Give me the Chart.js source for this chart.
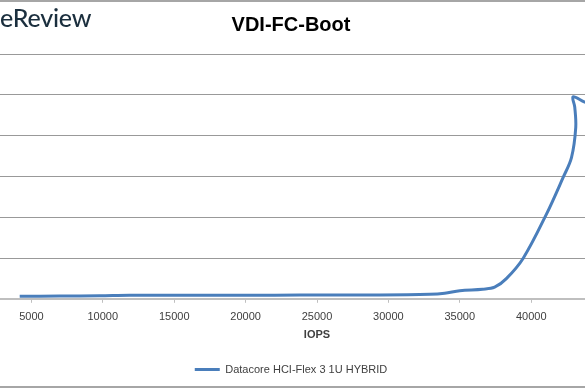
<!DOCTYPE html>
<html>
<head>
<meta charset="utf-8">
<script src="https://cdn.jsdelivr.net/npm/chart.js@4/dist/chart.umd.min.js"></script>
<style>
  html, body { margin: 0; padding: 0; background: #fff; }
  body { width: 585px; height: 390px; overflow: hidden; position: relative; }
  #wrap { position: absolute; left: -92px; top: 0; width: 766px; height: 385px; }
  .rule { position: absolute; left: 0; width: 585px; height: 2px; background: #a6a6a6; }
  #logo { position: absolute; left: 0; top: 2px; font-family: Lato, sans-serif; font-size: 25px;
          color: #1b2f3e; font-weight: 500; letter-spacing: -0.2px; }
</style>
</head>
<body>
<div id="wrap"><canvas id="grafico"></canvas></div>
<div class="rule" style="top:0"></div>
<div class="rule" style="top:386px"></div>
<div id="logo">eReview</div>
<script>
// valores (IOPS x latencia)
var iops = [4180, 6980, 9780, 11870, 16790, 20290, 23800, 29390, 32890, 33940, 35000, 36600, 37440,
            38260, 39430, 41060, 42230, 42820, 43120, 43050, 42930, 43750, 44500];
var latencia = [0.62, 0.67, 0.74, 0.86, 0.84, 0.86, 0.91, 0.94, 1.11, 1.36, 1.98, 2.35, 2.84,
                4.94, 9.88, 20.7, 29.7, 34.6, 42.0, 47.0, 49.5, 48.2, 47.5];
var xTicks = [0, 5000, 10000, 15000, 20000, 25000, 30000, 35000, 40000, 45000];
var yTicks = [0, 10, 20, 30, 40, 50, 60];
var serie = 'Datacore HCI-Flex 3 1U HYBRID';
var azul = '#4a7ebb';

var pontos = iops.map(function (x, i) { return { x: x, y: latencia[i] }; });

var ctx1 = document.getElementById('grafico').getContext('2d');
var meuGrafico = new Chart(ctx1, {
    type: 'scatter',
    data: {
        datasets: [{
            label: serie,
            data: pontos,
            showLine: true,
            borderColor: azul,
            backgroundColor: azul,
            borderWidth: 3,
            pointRadius: 0,
            tension: 0.35
        }]
    },
    options: {
        responsive: true,
        maintainAspectRatio: false,
        animation: false,
        layout: { padding: 0 },
        plugins: {
            title: {
                display: true,
                text: 'VDI-FC-Boot',
                color: '#000',
                font: { family: 'Liberation Sans', size: 20, weight: 'bold' },
                padding: { top: 13, bottom: 17 }
            },
            legend: {
                position: 'bottom',
                labels: {
                    usePointStyle: true,
                    pointStyle: 'line',
                    pointStyleWidth: 25,
                    color: '#404040',
                    font: { family: 'Liberation Sans', size: 11 },
                    padding: 10
                }
            },
            tooltip: { enabled: false }
        },
        scales: {
            x: {
                type: 'linear',
                min: 0,
                max: 50000,
                afterBuildTicks: function (axis) {
                    axis.ticks = xTicks.map(function (v) { return { value: v }; });
                },
                grid: { drawOnChartArea: false, drawTicks: true, tickLength: 4, color: '#bfbfbf' },
                border: { display: true, color: '#bfbfbf', width: 2 },
                ticks: {
                    color: '#404040',
                    padding: 9,
                    maxRotation: 0,
                    font: { family: 'Liberation Sans', size: 11, lineHeight: 1 },
                    callback: function (v) { return String(v); }
                },
                title: {
                    display: true,
                    text: 'IOPS',
                    color: '#404040',
                    font: { family: 'Liberation Sans', size: 11, weight: 'bold' },
                    padding: { top: -3, bottom: 12 }
                }
            },
            y: {
                min: 0,
                max: 60,
                afterBuildTicks: function (axis) {
                    axis.ticks = yTicks.map(function (v) { return { value: v }; });
                },
                afterFit: function (axis) { axis.width = 52; },
                grid: { color: '#999', lineWidth: 1, drawTicks: false },
                border: { display: false },
                ticks: { display: false }
            }
        }
    }
});
</script>
</body>
</html>
